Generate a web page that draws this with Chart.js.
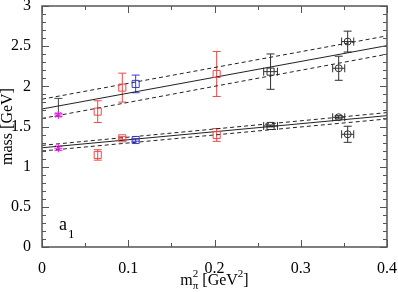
<!DOCTYPE html>
<html>
<head>
<meta charset="utf-8">
<script src="https://cdn.jsdelivr.net/npm/chart.js@4"></script>
<style>
  html, body { margin: 0; padding: 0; background: #fff; }
  #wrap { width: 398px; height: 292px; }
</style>
</head>
<body>
<div id="wrap"><canvas id="c" width="398" height="292"></canvas></div>
<script>
// data
const xRed = [0.0646, 0.0931, 0.2025];
const redUp = [1.685, 1.984, 2.154];
const redUpErr = [0.135, 0.18, 0.28];
const redLo = [1.146, 1.353, 1.395];
const redLoErr = [0.065, 0.02, 0.08];

const xBlue = [0.1086];
const blueUp = [2.03];
const blueUpErr = [0.11];
const blueLo = [1.332];
const blueLoErr = [0.015];

const xMag = [0.019];
const magUp = [1.644];
const magUpErr = [0.02];
const magLo = [1.229];
const magLoErr = [0.025];

const xSq = [0.265];
const sqUp = [2.183];
const sqUpErr = [0.22];
const sqLo = [1.507];
const sqLoErr = [0.012];
const sqXErr = [0.008];

const xCirc = [0.344, 0.3544];
const circUp = [2.225, 2.557];
const circUpErr = [0.15, 0.13];
const circLo = [1.615, 1.403];
const circLoErr = [0.02, 0.1];
const circXErr = [0.007, 0.007];

// extrapolated value at physical point
const xPhys = [0.019];
const physLow = [1.64];
const physHigh = [1.85];

// fits (value at x=0 and x=0.4)
const fitX = [0, 0.4];
const fitUp = [1.718, 2.507];
const fitUpHi = [1.84, 2.628];
const fitUpLo = [1.60, 2.40];
const fitLo = [1.235, 1.635];
const fitLoHi = [1.265, 1.673];
const fitLoLo = [1.195, 1.594];

const RED = '#f04848';
const BLUE = '#3838d8';
const MAG = '#e020e0';
const BLK = '#303030';

const pts = (xs, ys) => xs.map((x, i) => ({ x: x, y: ys[i] }));

function lineDs(ys, dashed) {
  return {
    type: 'line', data: pts(fitX, ys), borderColor: '#222', borderWidth: 1,
    borderDash: dashed ? [4, 3] : [], pointRadius: 0, fill: false, order: 5
  };
}
function markDs(xs, ys, color, style, r) {
  return {
    type: 'scatter', data: pts(xs, ys), pointStyle: style, pointRadius: r,
    borderColor: color, backgroundColor: 'rgba(0,0,0,0)', pointBorderWidth: 1, order: 1
  };
}

// error bars: [xs, ys, yErr, xErr, colour]
const errSets = [
  [xRed, redUp, redUpErr, null, RED],
  [xRed, redLo, redLoErr, null, RED],
  [xBlue, blueUp, blueUpErr, null, BLUE],
  [xBlue, blueLo, blueLoErr, null, BLUE],
  [xMag, magUp, magUpErr, null, MAG],
  [xMag, magLo, magLoErr, null, MAG],
  [xSq, sqUp, sqUpErr, sqXErr, BLK],
  [xSq, sqLo, sqLoErr, sqXErr, BLK],
  [xCirc, circUp, circUpErr, circXErr, BLK],
  [xCirc, circLo, circLoErr, circXErr, BLK]
];

const errorBars = {
  id: 'errorBars',
  beforeDatasetsDraw(chart) {
    const ctx = chart.ctx, xs = chart.scales.x, ys = chart.scales.y;
    ctx.save();
    ctx.lineWidth = 1;
    const cap = 4;
    errSets.forEach(([X, Y, E, XE, col]) => {
      ctx.strokeStyle = col;
      X.forEach((x, i) => {
        const px = xs.getPixelForValue(x);
        const py = ys.getPixelForValue(Y[i]);
        const t = ys.getPixelForValue(Y[i] + E[i]);
        const b = ys.getPixelForValue(Y[i] - E[i]);
        ctx.beginPath();
        ctx.moveTo(px, t); ctx.lineTo(px, b);
        ctx.moveTo(px - cap, t); ctx.lineTo(px + cap, t);
        ctx.moveTo(px - cap, b); ctx.lineTo(px + cap, b);
        if (XE) {
          const l = xs.getPixelForValue(x - XE[i]);
          const r = xs.getPixelForValue(x + XE[i]);
          ctx.moveTo(l, py); ctx.lineTo(r, py);
          ctx.moveTo(l, py - cap); ctx.lineTo(l, py + cap);
          ctx.moveTo(r, py - cap); ctx.lineTo(r, py + cap);
        }
        ctx.stroke();
      });
    });
    // black bar at the physical point
    ctx.strokeStyle = '#444';
    xPhys.forEach((x, i) => {
      const px = xs.getPixelForValue(x);
      const t = ys.getPixelForValue(physHigh[i]);
      const b = ys.getPixelForValue(physLow[i]);
      ctx.beginPath();
      ctx.moveTo(px, t); ctx.lineTo(px, b);
      ctx.moveTo(px - cap, t); ctx.lineTo(px + cap, t);
      ctx.stroke();
    });
    ctx.restore();
  }
};

const frame = {
  id: 'frame',
  afterDraw(chart) {
    const ctx = chart.ctx, a = chart.chartArea, xs = chart.scales.x, ys = chart.scales.y;
    ctx.save();
    ctx.strokeStyle = '#555';
    ctx.lineWidth = 1.5;
    ctx.strokeRect(a.left, a.top, a.right - a.left, a.bottom - a.top);
    ctx.lineWidth = 1;
    ctx.beginPath();
    for (let k = 0; k <= 8; k++) {
      const v = k * 0.05, px = Math.round(xs.getPixelForValue(v)) + 0.5;
      const len = k % 2 === 0 ? 7 : 4;
      ctx.moveTo(px, a.bottom); ctx.lineTo(px, a.bottom - len);
      ctx.moveTo(px, a.top); ctx.lineTo(px, a.top + len);
    }
    for (let k = 0; k <= 30; k++) {
      const v = k * 0.1, py = Math.round(ys.getPixelForValue(v)) + 0.5;
      const len = k % 5 === 0 ? 7 : 4;
      ctx.moveTo(a.left, py); ctx.lineTo(a.left + len, py);
      ctx.moveTo(a.right, py); ctx.lineTo(a.right - len, py);
    }
    ctx.stroke();

    ctx.fillStyle = '#000';
    ctx.textBaseline = 'alphabetic';
    // x title: m_pi^2 [GeV^2]
    const big = '16px "Liberation Serif"', small = '11px "Liberation Serif"';
    ctx.font = big;
    const wm = ctx.measureText('m').width;
    const wr = ctx.measureText(' [GeV').width;
    const wb = ctx.measureText(']').width;
    ctx.font = small;
    const ws = ctx.measureText('π').width;
    const w2 = ctx.measureText('2').width;
    const total = wm + Math.max(ws, w2) + wr + w2 + wb;
    let x0 = (a.left + a.right) / 2 - total / 2;
    const base = 285;
    ctx.font = big; ctx.fillText('m', x0, base); x0 += wm;
    ctx.font = small; ctx.fillText('π', x0, base + 4); ctx.fillText('2', x0, base - 8);
    x0 += Math.max(ws, w2);
    ctx.font = big; ctx.fillText(' [GeV', x0, base); x0 += wr;
    ctx.font = small; ctx.fillText('2', x0, base - 8); x0 += w2;
    ctx.font = big; ctx.fillText(']', x0, base);

    // y title
    ctx.save();
    ctx.translate(12, (a.top + a.bottom) / 2);
    ctx.rotate(-Math.PI / 2);
    ctx.textAlign = 'center';
    ctx.font = '16px "Liberation Serif"';
    ctx.fillText('mass [GeV]', 0, 0);
    ctx.restore();

    // a_1 label
    ctx.font = '18px "Liberation Serif"';
    ctx.fillText('a', 59, 230);
    ctx.font = '13px "Liberation Serif"';
    ctx.fillText('1', 68, 238);
    ctx.restore();
  }
};

const serif = { family: 'Liberation Serif', size: 16 };

new Chart(document.getElementById('c'), {
  type: 'scatter',
  data: {
    datasets: [
      lineDs(fitUp, false), lineDs(fitUpHi, true), lineDs(fitUpLo, true),
      lineDs(fitLo, false), lineDs(fitLoHi, true), lineDs(fitLoLo, true),
      markDs(xRed, redUp, RED, 'rect', 5),
      markDs(xRed, redLo, RED, 'rect', 5),
      markDs(xBlue, blueUp, BLUE, 'rect', 5),
      markDs(xBlue, blueLo, BLUE, 'rect', 5),
      markDs(xMag, magUp, MAG, 'star', 4),
      markDs(xMag, magLo, MAG, 'star', 4),
      markDs(xSq, sqUp, BLK, 'rect', 5),
      markDs(xSq, sqLo, BLK, 'rect', 5),
      markDs(xCirc, circUp, BLK, 'circle', 3.5),
      markDs(xCirc, circLo, BLK, 'circle', 3.5)
    ]
  },
  options: {
    responsive: false,
    animation: false,
    layout: { padding: { top: 6, right: 11, left: 0, bottom: 0 } },
    plugins: { legend: { display: false }, tooltip: { enabled: false } },
    scales: {
      x: {
        type: 'linear', min: 0, max: 0.4,
        grid: { display: false }, border: { display: false },
        ticks: { stepSize: 0.1, font: serif, color: '#000', padding: 4, maxRotation: 0,
          callback: v => String(Math.round(v * 10) / 10) },
        afterFit: s => { s.height = 45; s.paddingLeft = 0; s.paddingRight = 0; }
      },
      y: {
        min: 0, max: 3,
        grid: { display: false }, border: { display: false },
        ticks: { stepSize: 0.5, font: serif, color: '#000', padding: 3,
          callback: v => String(v) },
        afterFit: s => { s.width = 42; s.paddingTop = 0; s.paddingBottom = 0; }
      }
    }
  },
  plugins: [errorBars, frame]
});
</script>
</body>
</html>
